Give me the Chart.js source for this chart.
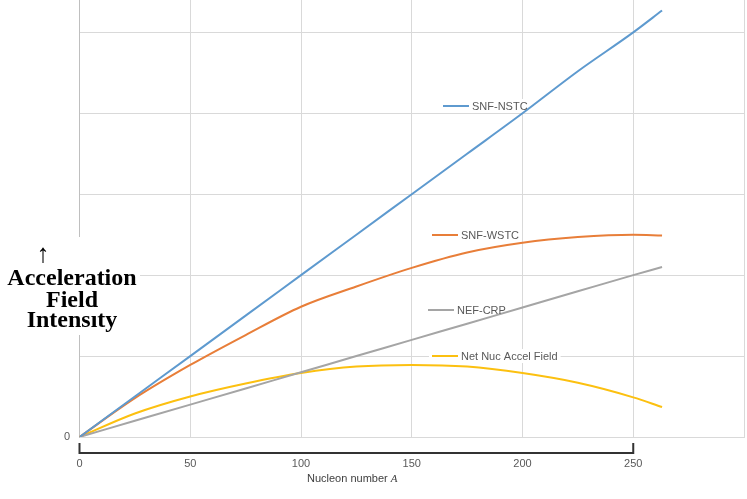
<!DOCTYPE html>
<html>
<head>
<meta charset="utf-8">
<script src="https://cdn.jsdelivr.net/npm/chart.js@4"></script>
<style>
  html, body { margin: 0; padding: 0; background: #fff; }
  #wrap { width: 747px; height: 499px; position: relative; }
</style>
</head>
<body>
<div id="wrap"><canvas id="grafico"></canvas></div>
<script>
// valores
const nucleones = [0, 25, 50, 75, 100, 125, 150, 175, 200, 225, 250, 263];
const snfNstc   = [0, 5, 10, 15, 20, 25, 30, 35, 40, 45.2, 50, 52.7];
const snfWstc   = [0, 4.8, 8.9, 12.6, 16.1, 18.6, 20.9, 22.8, 24.0, 24.7, 25.0, 24.9];
const nefCrp    = [0, 2, 4, 6, 8, 10, 12, 14, 16, 18, 20, 21];
const netNuc    = [0, 2.9, 5.0, 6.6, 7.9, 8.7, 8.9, 8.7, 7.9, 6.7, 4.9, 3.7];
const nombres   = ["SNF-NSTC", "SNF-WSTC", "NEF-CRP", "Net Nuc Accel Field"];
const colores   = ["#5e9acf", "#e87e39", "#a5a5a5", "#fcc010"];
const ticksX    = [0, 50, 100, 150, 200, 250];

const series = [snfNstc, snfWstc, nefCrp, netNuc];
const puntos = s => nucleones.map((a, i) => ({ x: a, y: s[i] }));

// posiciones de las etiquetas dentro del grafico (px)
const etiquetas = [
  { x: 443, y: 106 },
  { x: 432, y: 235 },
  { x: 428, y: 310 },
  { x: 432, y: 356 }
];

const fuenteEtiq = "11px 'Liberation Sans'";

const extras = {
  id: "extras",
  beforeDatasetsDraw(chart) {
    // fondo blanco de las etiquetas (tapa solo la grilla)
    const ctx = chart.ctx;
    ctx.save();
    ctx.font = fuenteEtiq;
    ctx.fillStyle = "#fff";
    nombres.forEach((n, i) => {
      const p = etiquetas[i];
      const w = ctx.measureText(n).width;
      ctx.fillRect(p.x - 3, p.y - 7, w + 35, 14);
    });
    ctx.restore();
  },
  afterDraw(chart) {
    const ctx = chart.ctx;
    const sx = chart.scales.x;
    const sy = chart.scales.y;
    ctx.save();

    // caja blanca con el titulo del eje y
    ctx.fillStyle = "#fff";
    ctx.fillRect(0, 237, 140, 98);
    ctx.fillStyle = "#000";
    ctx.textAlign = "center";
    ctx.textBaseline = "alphabetic";
    ctx.font = "26px 'Liberation Serif'";
    ctx.fillText("↑", 43, 262);
    ctx.font = "bold 24px 'Liberation Serif'";
    ctx.fillText("Acceleration", 72, 285);
    ctx.fillText("Field", 72, 307);
    ctx.fillText("Intensıty", 72, 327);

    // etiqueta 0 del eje y
    ctx.font = fuenteEtiq;
    ctx.fillStyle = "#595959";
    ctx.textAlign = "right";
    ctx.textBaseline = "middle";
    ctx.fillText("0", 70, sy.getPixelForValue(0));

    // etiquetas de series
    ctx.textAlign = "left";
    nombres.forEach((n, i) => {
      const p = etiquetas[i];
      ctx.strokeStyle = colores[i];
      ctx.lineWidth = 2;
      ctx.beginPath();
      ctx.moveTo(p.x, p.y);
      ctx.lineTo(p.x + 26, p.y);
      ctx.stroke();
      ctx.fillStyle = "#595959";
      ctx.fillText(n, p.x + 29, p.y + 1);
    });

    // eje inferior negro
    const x0 = sx.getPixelForValue(0), x1 = sx.getPixelForValue(250);
    ctx.strokeStyle = "#333";
    ctx.lineWidth = 2;
    ctx.beginPath();
    ctx.moveTo(x0, 443);
    ctx.lineTo(x0, 453);
    ctx.lineTo(x1, 453);
    ctx.lineTo(x1, 443);
    ctx.stroke();

    // titulo eje x
    ctx.fillStyle = "#404040";
    ctx.textAlign = "left";
    ctx.font = fuenteEtiq;
    const t = "Nucleon number ";
    ctx.fillText(t, 307, 479);
    const w = ctx.measureText(t).width;
    ctx.font = "italic 11px 'Liberation Serif'";
    ctx.fillText("A", 307 + w, 479);
    ctx.restore();
  }
};

new Chart(document.getElementById("grafico"), {
  type: "line",
  data: {
    datasets: series.map((s, i) => ({
      label: nombres[i],
      data: puntos(s),
      borderColor: colores[i],
      backgroundColor: colores[i],
      borderWidth: 2,
      pointRadius: 0,
      cubicInterpolationMode: "monotone",
      fill: false
    }))
  },
  options: {
    responsive: true,
    maintainAspectRatio: false,
    animation: false,
    layout: { padding: { left: 0, right: 3, top: 0, bottom: 0 } },
    plugins: { legend: { display: false }, tooltip: { enabled: false } },
    scales: {
      x: {
        type: "linear",
        min: 0, max: 300,
        afterBuildTicks: sc => { sc.ticks = [...ticksX, 300].map(v => ({ value: v })); },
        afterFit: sc => { sc.height = 62; },
        grid: { color: "#d9d9d9", lineWidth: 1, drawTicks: true, tickLength: 20, tickColor: "rgba(0,0,0,0)" },
        border: { color: "#d9d9d9" },
        ticks: {
          padding: 0,
          color: "#595959",
          font: { family: "Liberation Sans", size: 11 },
          maxRotation: 0,
          callback: v => v === 300 ? "" : String(v)
        }
      },
      y: {
        min: 0, max: 54,
        afterBuildTicks: sc => { sc.ticks = sc.ticks.filter(t => t.value % 10 === 0); },
        afterFit: sc => { sc.width = 79.5; },
        grid: { color: "#d9d9d9", lineWidth: 1, drawTicks: false },
        border: { color: "#bfbfbf" },
        ticks: { stepSize: 10, display: false }
      }
    }
  },
  plugins: [extras]
});
</script>
</body>
</html>
